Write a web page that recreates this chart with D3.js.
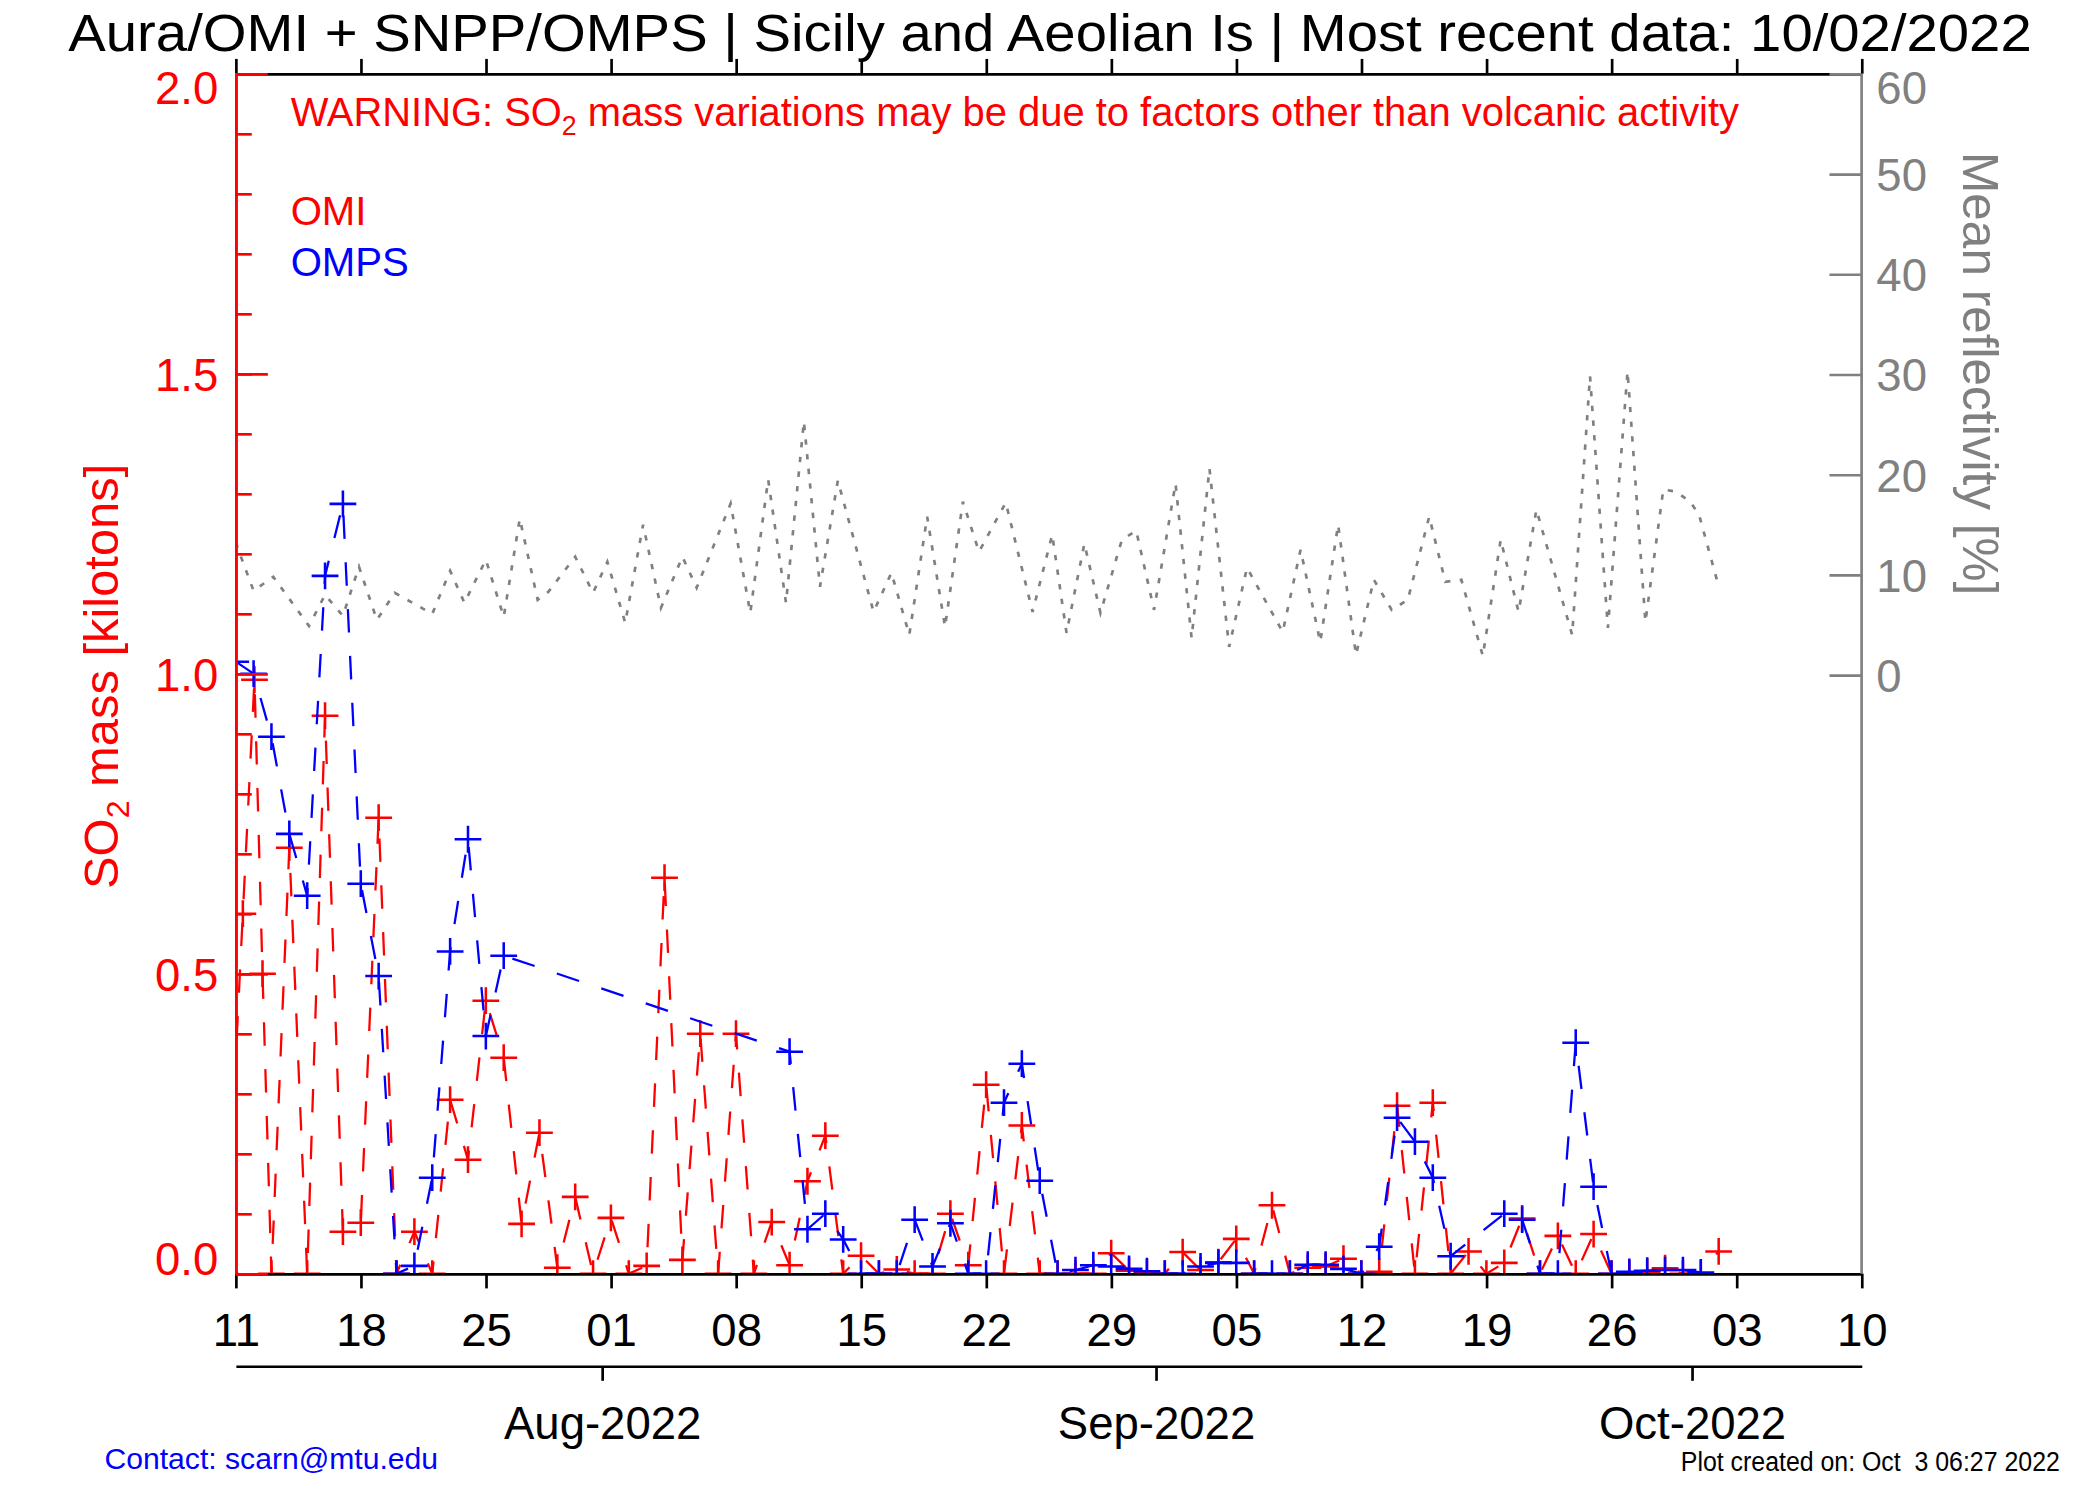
<!DOCTYPE html>
<html>
<head>
<meta charset="utf-8">
<script src="https://cdn.jsdelivr.net/npm/d3@7"></script>
<style>
  html, body { margin: 0; padding: 0; background: #fff; }
  svg { display: block; }
  text { font-family: "Liberation Sans", Arial, Helvetica, sans-serif; }
</style>
</head>
<body>
<div id="chart"></div>
<script>
// days counted from 11 Jul 2022 (00 UTC)
const omiDay = [-0.6, 0.4, 1.05, 1.5, 2, 3, 4, 5, 6, 7, 8, 9, 10, 11, 12, 13, 14, 15, 16, 17, 18, 19, 20,
  21, 22, 23, 24, 25, 26, 27, 28, 29, 30, 31, 32, 33, 34, 35, 36, 37, 38, 39, 40, 41, 42, 43, 44, 45,
  46, 47, 48, 49, 50, 51, 52, 53, 54, 55, 56, 57, 58, 59, 60, 61, 62, 63, 64, 65, 66, 67, 68, 69, 70,
  71, 72, 73, 74, 75, 76, 77, 78, 79, 80, 81, 82, 83];
const omiMass = [0, 0.60, 0.99, 0.50, 0, 0.71, 0, 0.93, 0.07, 0.085, 0.76, 0, 0.07, 0, 0.29, 0.19, 0.455, 0.36, 0.083, 0.235, 0.01, 0.128, 0,
  0.093, 0, 0.013, 0.66, 0.023, 0.40, 0, 0.40, 0, 0.086, 0.014, 0.154, 0.23, 0, 0.03, 0, 0.007, 0, 0, 0.10, 0.014, 0.315, 0, 0.247, 0,
  0, 0, 0, 0.034, 0.005, 0.002, 0, 0.036, 0.006, 0.019, 0.058, 0, 0.114, 0, 0.01, 0.012, 0.025, 0, 0.003, 0.28, 0, 0.285, 0, 0.037, 0,
  0.018, 0.092, 0, 0.063, 0, 0.066, 0, 0, 0.003, 0.009, 0, 0, 0.037];

const ompsDay = [0, 1, 2, 3, 4, 5, 6, 7, 8, 9, 10, 11, 12, 13, 14, 15, 31, 32, 33, 34, 35, 36, 37, 38, 39, 40,
  41, 42, 43, 44, 45, 46, 47, 48, 49, 50, 51, 52, 53, 54, 55, 56, 57, 58, 59, 60, 61, 62, 63, 64, 65, 66,
  67, 68, 71, 72, 73, 74, 75, 76, 77, 78, 79, 80, 81, 82];
const ompsMass = [1.02, 1.0, 0.895, 0.733, 0.63, 1.163, 1.283, 0.65, 0.496, 0, 0.013, 0.16, 0.537, 0.724, 0.396, 0.53, 0.37, 0.074, 0.10, 0.057, 0, 0, 0, 0.09, 0.012, 0.084,
  0, 0, 0.285, 0.35, 0.155, 0, 0.006, 0.014, 0.012, 0.008, 0.004, 0, 0, 0.012, 0.018, 0.018, 0, 0, 0, 0.015, 0.015, 0.008, 0, 0.045, 0.26, 0.22,
  0.16, 0.029, 0.10, 0.09, 0, 0, 0.385, 0.145, 0, 0.003, 0.005, 0.006, 0.006, 0.002];

const reflDay = [0, 1.0, 2.1, 4.1, 5.0, 6.0, 6.9, 7.9, 8.9, 9.6, 11.0, 12.0, 12.8, 14.0, 15.0, 15.9, 16.9, 17.5, 19.0, 20.0,
  20.8, 21.8, 22.8, 23.8, 25.0, 25.8, 27.7, 28.8, 29.8, 30.8, 31.8, 32.7, 33.7, 35.7, 36.7, 37.7, 38.7, 39.7, 40.7, 41.6,
  43.1, 44.6, 45.7, 46.5, 47.5, 48.4, 49.6, 50.4, 51.4, 52.6, 53.5, 54.5, 55.6, 56.6, 58.6, 59.6, 60.7, 61.7, 62.7, 63.7,
  64.7, 65.6, 66.8, 67.7, 68.6, 69.8, 70.8, 71.8, 72.8, 74.8, 75.8, 76.8, 77.9, 78.9, 79.9, 80.6, 81.4, 81.9, 82.9];
const reflPct = [13.2, 8.4, 9.8, 4.9, 8.0, 5.9, 10.8, 5.5, 8.2, 7.5, 6.1, 10.4, 7.2, 11.5, 5.8, 15.6, 7.5, 8.3, 11.8, 8.2,
  11.3, 5.2, 15.0, 6.7, 11.8, 8.7, 17.1, 6.2, 19.5, 7.2, 25.3, 8.8, 19.4, 6.3, 10.2, 4.0, 15.8, 4.8, 17.3, 12.3,
  17.2, 6.3, 14.0, 4.2, 13.1, 6.2, 13.5, 14.4, 6.5, 19.1, 3.7, 20.6, 2.8, 10.7, 4.3, 12.5, 3.3, 15.0, 2.0, 9.5,
  6.5, 7.5, 15.8, 9.3, 9.5, 1.9, 13.5, 6.3, 16.5, 4.0, 29.8, 4.7, 30.3, 5.3, 18.5, 18.3, 17.3, 16.0, 9.5];

const massTicks = [0, 0.5, 1.0, 1.5, 2.0];
const massMinor = d3.range(0, 2.001, 0.1);
const reflTicks = [0, 10, 20, 30, 40, 50, 60];

const titleText = "Aura/OMI + SNPP/OMPS | Sicily and Aeolian Is | Most recent data: 10/02/2022";
const createdText = "Plot created on: Oct  3 06:27 2022";
const contactText = "Contact: scarn@mtu.edu";

const start = new Date(Date.UTC(2022, 6, 11));
const toDate = d => new Date(start.getTime() + d * 864e5);

// drawing in a 1568 x 1120 frame, scaled to the 2100 x 1500 page
const W = 1568, H = 1120;
const pL = 176, pR = 1390, pT = 55, pB = 951;
const RED = "#ff0000", BLUE = "#0000ff", GRAY = "#808080";

const svg = d3.select("#chart").append("svg")
  .attr("width", 2100)
  .attr("height", 1500)
  .attr("viewBox", `0 0 ${W} ${H}`);

svg.append("rect").attr("width", W).attr("height", H).attr("fill", "#fff");

svg.append("defs").append("clipPath").attr("id", "plot-clip")
  .append("rect")
  .attr("x", pL).attr("y", pT)
  .attr("width", pR - pL).attr("height", pB - pT);

const x = d3.scaleUtc().domain([start, toDate(91)]).range([pL, pR]);
const y = d3.scaleLinear().domain([0, 2]).range([pB, pT]);
const yR = d3.scaleLinear().domain([0, 60]).range([504, pT]);

const dayTicks = d3.range(0, 92, 7).map(toDate);
const monthTicks = d3.utcMonth.range(toDate(1), toDate(91)).map(d => d3.utcHour.offset(d, -12));

// --- series
const plot = svg.append("g").attr("clip-path", "url(#plot-clip)");

const reflData = d3.zip(reflDay, reflPct);
plot.append("path")
  .datum(reflData)
  .attr("fill", "none")
  .attr("stroke", GRAY)
  .attr("stroke-width", 2)
  .attr("stroke-dasharray", "4,7")
  .attr("d", d3.line().x(d => x(toDate(d[0]))).y(d => yR(d[1])));

function drawSeries(days, vals, color, dash) {
  const data = d3.zip(days, vals);
  plot.append("path")
    .datum(data)
    .attr("fill", "none")
    .attr("stroke", color)
    .attr("stroke-width", 1.7)
    .attr("stroke-dasharray", dash)
    .attr("d", d3.line().x(d => x(toDate(d[0]))).y(d => y(d[1])));
  plot.append("g").selectAll("path")
    .data(data)
    .enter()
    .append("path")
    .attr("transform", d => `translate(${x(toDate(d[0]))},${y(d[1])})`)
    .attr("d", "M-10,0H10M0,-10V10")
    .attr("stroke", color)
    .attr("stroke-width", 1.9)
    .attr("fill", "none");
}
drawSeries(omiDay, omiMass, RED, "17.5,17.5");
drawSeries(ompsDay, ompsMass, BLUE, "17.5,17.5");

// --- axes
function styleAxis(g, color, width) {
  g.selectAll("path.domain").attr("stroke", color).attr("stroke-width", width);
  g.selectAll(".tick line").attr("stroke", color).attr("stroke-width", width);
  g.selectAll(".tick text").attr("fill", color);
}

// top edge
const topAxis = svg.append("g")
  .attr("transform", `translate(0,${pT})`)
  .call(d3.axisTop(x).tickValues(dayTicks).tickSize(11).tickSizeOuter(0).tickFormat(""));
styleAxis(topAxis, "#000", 2);

// bottom day axis
const dayAxis = svg.append("g")
  .attr("transform", `translate(0,${pB})`)
  .call(d3.axisBottom(x).tickValues(dayTicks).tickSize(11).tickSizeOuter(0).tickPadding(19)
    .tickFormat(d3.utcFormat("%d")));
styleAxis(dayAxis, "#000", 2);
dayAxis.selectAll(".tick text").attr("font-size", 34).attr("font-family", null);

// month axis
const monthAxis = svg.append("g")
  .attr("transform", "translate(0,1020)")
  .call(d3.axisBottom(x).tickValues(monthTicks).tickSize(11).tickSizeOuter(0).tickPadding(19)
    .tickFormat(d => d3.utcFormat("%b-%Y")(d3.utcHour.offset(d, 12))));
styleAxis(monthAxis, "#000", 2);
monthAxis.selectAll(".tick text").attr("font-size", 34).attr("font-family", null);

// right reflectivity axis
const rightAxis = svg.append("g")
  .attr("transform", `translate(${pR},0)`)
  .call(d3.axisRight(yR).tickValues(reflTicks).tickSize(-24).tickSizeOuter(0).tickPadding(11));
rightAxis.select("path.domain").attr("d", `M0,${pT}V${pB}`);
styleAxis(rightAxis, GRAY, 2);
rightAxis.selectAll(".tick text")
  .attr("font-size", 34).attr("font-family", null)
  .attr("dy", d => d === 60 ? "0.66em" : "0.36em");

// left SO2 axis
const leftMinor = svg.append("g")
  .attr("transform", `translate(${pL},0)`)
  .call(d3.axisLeft(y).tickValues(massMinor).tickSize(-12).tickSizeOuter(0).tickFormat(""));
styleAxis(leftMinor, RED, 2);

const leftAxis = svg.append("g")
  .attr("transform", `translate(${pL},0)`)
  .call(d3.axisLeft(y).tickValues(massTicks).tickSize(-24).tickSizeOuter(0).tickPadding(13)
    .tickFormat(d3.format(".1f")));
styleAxis(leftAxis, RED, 2);
leftAxis.selectAll(".tick text")
  .attr("font-size", 34).attr("font-family", null)
  .attr("dy", d => d === 2 ? "0.66em" : d === 0 ? "0.02em" : "0.36em");

// --- texts
svg.append("text")
  .attr("x", 51).attr("y", 38)
  .attr("font-size", 39)
  .attr("textLength", 1466)
  .attr("lengthAdjust", "spacingAndGlyphs")
  .text(titleText);

const warn = svg.append("text")
  .attr("x", 217).attr("y", 94)
  .attr("font-size", 29.8)
  .attr("fill", RED);
warn.append("tspan").text("WARNING: SO");
warn.append("tspan").attr("font-size", 20).attr("dy", 7).text("2");
warn.append("tspan").attr("dy", -7).text(" mass variations may be due to factors other than volcanic activity");

svg.append("text").attr("x", 217).attr("y", 168).attr("font-size", 30).attr("fill", RED).text("OMI");
svg.append("text").attr("x", 217).attr("y", 206).attr("font-size", 30).attr("fill", BLUE).text("OMPS");

const yTitle = svg.append("text")
  .attr("transform", "translate(88,505) rotate(-90)")
  .attr("text-anchor", "middle")
  .attr("font-size", 36.5)
  .attr("fill", RED);
yTitle.append("tspan").text("SO");
yTitle.append("tspan").attr("font-size", 24).attr("dy", 8).text("2");
yTitle.append("tspan").attr("dy", -8).text(" mass [kilotons]");

svg.append("text")
  .attr("transform", "translate(1466,279) rotate(90)")
  .attr("text-anchor", "middle")
  .attr("font-size", 37)
  .attr("fill", GRAY)
  .text("Mean reflectivity [%]");

svg.append("text")
  .attr("x", 78).attr("y", 1097)
  .attr("font-size", 22.5)
  .attr("fill", BLUE)
  .text(contactText);

svg.append("text")
  .attr("x", 1255).attr("y", 1098)
  .attr("font-size", 20)
  .attr("textLength", 283)
  .attr("lengthAdjust", "spacingAndGlyphs")
  .style("white-space", "pre")
  .text(createdText);
</script>
</body>
</html>
